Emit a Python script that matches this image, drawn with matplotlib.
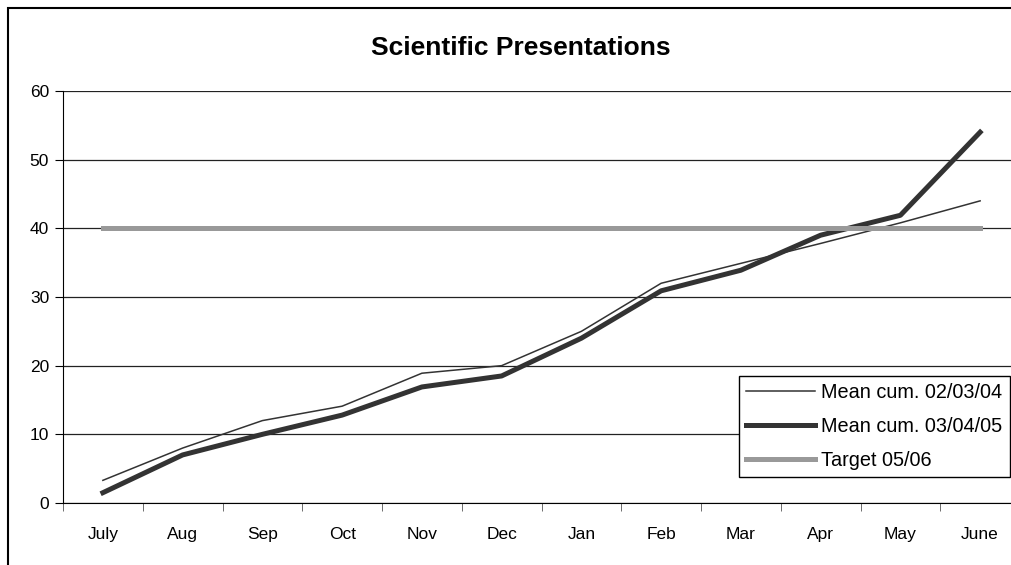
import matplotlib.pyplot as plt
from matplotlib.patches import Rectangle

plt.rcParams['font.family'] = ['Liberation Sans', 'DejaVu Sans']

months = ['July', 'Aug', 'Sep', 'Oct', 'Nov', 'Dec', 'Jan', 'Feb', 'Mar', 'Apr', 'May', 'June']
mean_020304 = [3.3, 8.0, 12.0, 14.1, 18.9, 20.0, 25.0, 32.0, 34.9, 37.8, 40.8, 44.0]
mean_030405 = [1.5, 7.0, 10.0, 12.8, 16.9, 18.5, 24.0, 30.9, 33.9, 39.0, 41.9, 54.0]
target_0506 = [40] * 12

W, H = 1011, 565
fig = plt.figure(figsize=(W / 100, H / 100), dpi=100)

# outer chart border (cropped on right and bottom)
fig.patches.append(Rectangle((8 / W, -0.1), 1.2, 1 - 8 / H + 0.1, transform=fig.transFigure,
                             fill=False, edgecolor='black', linewidth=1.5))

ax = fig.add_axes([63 / W, (H - 503) / H, (1020 - 63) / W, (503 - 91) / H])
x = range(len(months))

ax.plot(x, mean_020304, color='#333333', linewidth=1.1, label='Mean cum. 02/03/04')
ax.plot(x, mean_030405, color='#333333', linewidth=3.6, label='Mean cum. 03/04/05')
ax.plot(x, target_0506, color='#999999', linewidth=3.6, label='Target 05/06')

ax.set_xlim(-0.5, 11.5)
ax.set_ylim(0, 60)
ax.set_yticks(range(0, 61, 10))
ax.set_xticks(list(x))
ax.set_xticklabels(months)
ax.set_xticks([i + 0.5 for i in range(-1, 12)], minor=True)
ax.tick_params(axis='x', which='major', length=0, pad=17, labelsize=12.5)
ax.tick_params(axis='x', which='minor', length=6, direction='out', color='#555555')
ax.tick_params(axis='y', length=6, direction='out', labelsize=12.5, pad=4)

ax.yaxis.grid(True, color='#222222', linewidth=0.9)
ax.set_axisbelow(True)
for s in ['top', 'right']:
    ax.spines[s].set_visible(False)
ax.spines['left'].set_color('black')
ax.spines['bottom'].set_color('black')

fig.text(521 / W, 1 - 48 / H, 'Scientific Presentations', ha='center', va='center',
         fontsize=19, fontweight='bold')

leg = ax.legend(loc='lower left', bbox_to_anchor=(739 / W, (H - 477) / H),
                bbox_transform=fig.transFigure, fontsize=14.3, frameon=True,
                fancybox=False, borderpad=0.35, labelspacing=0.75, handlelength=3.5,
                handletextpad=0.3, borderaxespad=0)
leg.get_frame().set_edgecolor('black')
leg.get_frame().set_linewidth(1.0)
leg.get_frame().set_alpha(1)

plt.savefig('out.png', dpi=100)
